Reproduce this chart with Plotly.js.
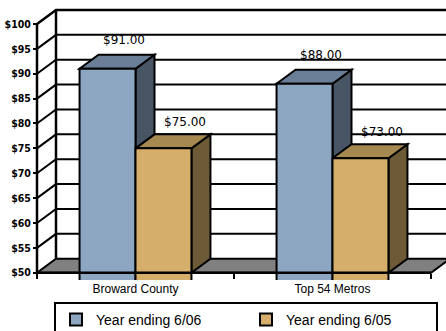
<!DOCTYPE html>
<html><head><meta charset="utf-8">
<script src="https://cdn.plot.ly/plotly-3.0.1.min.js"></script>
<style>html,body{margin:0;padding:0;background:#fff}#chart{width:446px;height:331px}</style>
</head><body><div id="chart"></div>
<script>
// ---- data ----
const categories = ['Broward County', 'Top 54 Metros'];
const seriesNames = ['Year ending 6/06', 'Year ending 6/05'];
const values0606 = [91, 88];
const values0605 = [75, 73];
const yTicks = [50, 55, 60, 65, 70, 75, 80, 85, 90, 95, 100];
const yTickLabels = yTicks.map(v => '$' + v);

// ---- geometry (pixels) ----
const W = 446, H = 331;
const M = {l: 34, r: 0, t: 6, b: 51, autoexpand: false};
const plotW = W - M.l - M.r, plotH = H - M.t - M.b;
const FRONT_LEFT_PX = 37, FRONT_RIGHT_PX = 431;
const Y_LO_PX = 272.7, Y_HI_PX = 24;
const DEPTH_X_PX = 19, DEPTH_Y_PX = 14;
const BARGAP = 0.432;

const yLo = yTicks[0], yHi = yTicks[yTicks.length - 1];
const pxPerY = (Y_LO_PX - Y_HI_PX) / (yHi - yLo);
const nCat = categories.length;
const pxPerX = (FRONT_RIGHT_PX - FRONT_LEFT_PX) / nCat;
const x0 = -0.5, x1 = nCat - 0.5;
const xRange = [x0 - (FRONT_LEFT_PX - M.l) / pxPerX, x1 + (W - M.r - FRONT_RIGHT_PX) / pxPerX];
const yRange = [yLo - (H - M.b - Y_LO_PX) / pxPerY, yHi + (Y_HI_PX - M.t) / pxPerY];
const dX = DEPTH_X_PX / pxPerX, dY = DEPTH_Y_PX / pxPerY;
const barW = (1 - BARGAP) / 2;

const series = [
  {name: seriesNames[0], values: values0606, front: '#8DA7C3', top: '#6A7E97', side: '#475565', lx: 16, ly: 29},
  {name: seriesNames[1], values: values0605, front: '#D4AE6A', top: '#A68950', side: '#6D5A36', lx: 22, ly: 26}
];

const xIdx = categories.map((c, i) => i);
const shapes = [];
const P = (x, y) => x + ',' + y;

// back wall gridlines with left-wall diagonals
yTicks.forEach(v => {
  if (v === yLo) return;
  shapes.push({type: 'path', xref: 'x', yref: 'y', layer: 'below',
    path: 'M' + P(x0, v) + 'L' + P(x0 + dX, v + dY) + 'L' + P(xRange[1] + 1, v + dY),
    line: {color: '#000', width: v === yHi ? 2.5 : 2}});
});
// left wall back edge
shapes.push({type: 'path', xref: 'x', yref: 'y', layer: 'below',
  path: 'M' + P(x0 + dX, yLo + dY) + 'L' + P(x0 + dX, yHi + dY),
  line: {color: '#000', width: 2.5}});
// floor
shapes.push({type: 'path', xref: 'x', yref: 'y', layer: 'below',
  path: 'M' + P(x0, yLo) + 'L' + P(x1, yLo) + 'L' + P(x1 + dX, yLo + dY) + 'L' + P(x0 + dX, yLo + dY) + 'Z',
  fillcolor: '#808080', line: {color: '#000', width: 2}});
// 3D faces of bars
xIdx.forEach(c => {
  series.forEach((s, si) => {
    const v = s.values[c];
    const xl = c - barW + si * barW, xr = xl + barW;
    shapes.push({type: 'path', xref: 'x', yref: 'y', layer: 'below',
      path: 'M' + P(xr, yLo) + 'L' + P(xr, v) + 'L' + P(xr + dX, v + dY) + 'L' + P(xr + dX, yLo + dY) + 'Z',
      fillcolor: s.side, line: {color: '#000', width: 2}});
    shapes.push({type: 'path', xref: 'x', yref: 'y', layer: 'below',
      path: 'M' + P(xl, v) + 'L' + P(xr, v) + 'L' + P(xr + dX, v + dY) + 'L' + P(xl + dX, v + dY) + 'Z',
      fillcolor: s.top, line: {color: '#000', width: 2}});
  });
});
// front axis line and front floor edge
shapes.push({type: 'line', xref: 'x', yref: 'y', layer: 'above', x0: x0, x1: x0, y0: yLo, y1: yHi,
  line: {color: '#000', width: 2.5}});
shapes.push({type: 'line', xref: 'x', yref: 'y', layer: 'above', x0: x0, x1: x1, y0: yLo, y1: yLo,
  line: {color: '#000', width: 2.5}});

const traces = series.map(s => ({
  type: 'bar', name: s.name, x: xIdx, y: s.values,
  marker: {color: s.front, line: {color: '#000', width: 2}},
  hoverinfo: 'skip'
}));
traces.push({type: 'scatter', x: [], y: [], xaxis: 'x2', yaxis: 'y', showlegend: false, hoverinfo: 'skip'});

const annotations = [];
xIdx.forEach(c => {
  series.forEach((s, si) => {
    const v = s.values[c];
    annotations.push({x: c - barW / 2 + si * barW, y: v, xref: 'x', yref: 'y',
      text: '$' + v.toFixed(2), showarrow: false, xanchor: 'center', yanchor: 'middle',
      xshift: s.lx, yshift: s.ly,
      font: {family: 'DejaVu Sans', size: 12, color: '#000'}});
  });
});

const layout = {
  width: W, height: H, margin: M,
  paper_bgcolor: '#fff', plot_bgcolor: '#fff',
  barmode: 'group', bargap: BARGAP, bargroupgap: 0,
  showlegend: true,
  legend: {orientation: 'h', x: (54 - M.l) / plotW, xanchor: 'left',
    y: (H - M.b - 302) / plotH, yanchor: 'top',
    bordercolor: '#000', borderwidth: 2, bgcolor: '#fff',
    entrywidth: 145, entrywidthmode: 'pixels',
    font: {family: 'Liberation Sans, Arial, sans-serif', size: 14, color: '#000'}},
  xaxis: {range: xRange, tickvals: xIdx, ticktext: categories, ticks: '',
    showline: false, showgrid: false, zeroline: false, fixedrange: true,
    tickfont: {family: 'Liberation Sans, Arial, sans-serif', size: 12, color: '#000'}},
  xaxis2: {overlaying: 'x', anchor: 'free', position: (H - M.b - Y_LO_PX) / plotH,
    range: xRange, tickvals: [x0].concat(xIdx.map(i => i + 0.5)), ticks: 'outside',
    ticklen: 5, tickwidth: 2, tickcolor: '#000', showticklabels: false,
    showline: false, showgrid: false, zeroline: false, fixedrange: true},
  yaxis: {range: yRange, anchor: 'free', position: (FRONT_LEFT_PX - M.l) / plotW,
    tickvals: yTicks, ticktext: yTickLabels, ticks: 'outside', ticklen: 4, tickwidth: 2,
    tickcolor: '#000', showline: false, showgrid: false, zeroline: false, fixedrange: true,
    tickfont: {family: 'DejaVu Sans Condensed, DejaVu Sans, sans-serif', size: 10.5, color: '#000', weight: 'bold'}},
  shapes: shapes,
  annotations: annotations
};

Plotly.newPlot('chart', traces, layout, {displayModeBar: false, staticPlot: true});
</script>
</body></html>
